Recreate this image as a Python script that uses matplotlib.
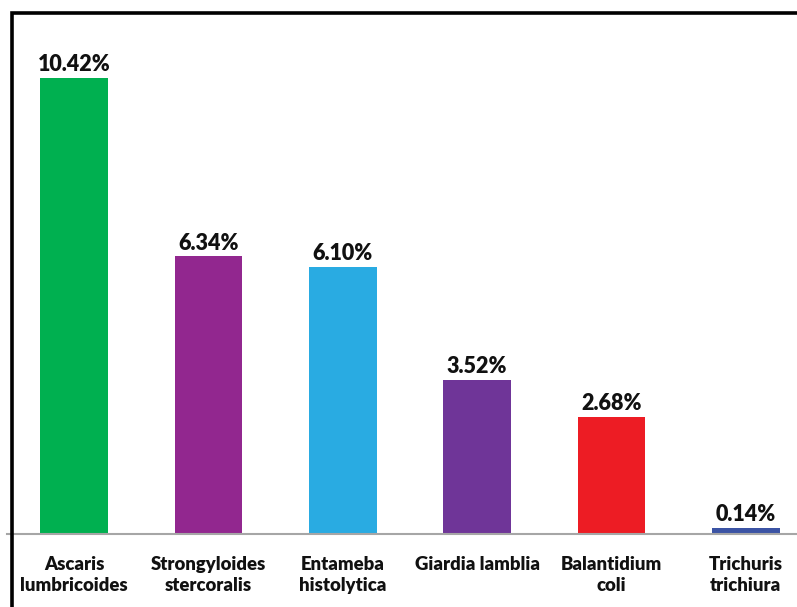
import matplotlib.pyplot as plt
from matplotlib.patches import Rectangle

# data
species = ["Ascaris\nlumbricoides", "Strongyloides\nstercoralis", "Entameba\nhistolytica",
           "Giardia lamblia", "Balantidium\ncoli", "Trichuris\ntrichiura"]
prevalence = [10.42, 6.34, 6.10, 3.52, 2.68, 0.14]
bar_colors = ["#00B050", "#92278F", "#29ABE2", "#6F3598", "#ED1C24", "#3B53A4"]

W, H = 797, 607
fig = plt.figure(figsize=(W / 100, H / 100), dpi=100)

# plot area runs past the right edge (the reference is cropped)
left, right, top, bottom = 7, 813, 12, 534
ax = fig.add_axes([left / W, 1 - bottom / H, (right - left) / W, (bottom - top) / H])

x = range(len(species))
bars = ax.bar(x, prevalence, width=0.506, color=bar_colors, zorder=2)
ax.set_xlim(-0.5, len(species) - 0.5)
ax.set_ylim(0, 11.92)

for b, v in zip(bars, prevalence):
    ax.annotate(f"{v:.2f}%", (b.get_x() + b.get_width() / 2, v), xytext=(0, 2),
                textcoords="offset points", ha="center", va="bottom",
                fontsize=15.5, fontweight="heavy", family="Lato", color="#111111")

for s in ["top", "right", "left"]:
    ax.spines[s].set_visible(False)
ax.spines["bottom"].set_color("#A6A6A6")
ax.spines["bottom"].set_linewidth(1.5)
ax.set_yticks([])
ax.set_xticks(list(x))
ax.set_xticklabels(species, fontsize=13.3, fontweight="heavy", family="Lato",
                   color="#111111", linespacing=1.3)
ax.tick_params(axis="x", length=0, pad=16)

# black chart frame, cropped at right and bottom
fig.add_artist(Rectangle((11.5 / W, -0.2), 1.2, 1.2 - 12.5 / H, transform=fig.transFigure,
                         fill=False, edgecolor="black", linewidth=2.6, zorder=5))

fig.savefig("out.png", dpi=100)
